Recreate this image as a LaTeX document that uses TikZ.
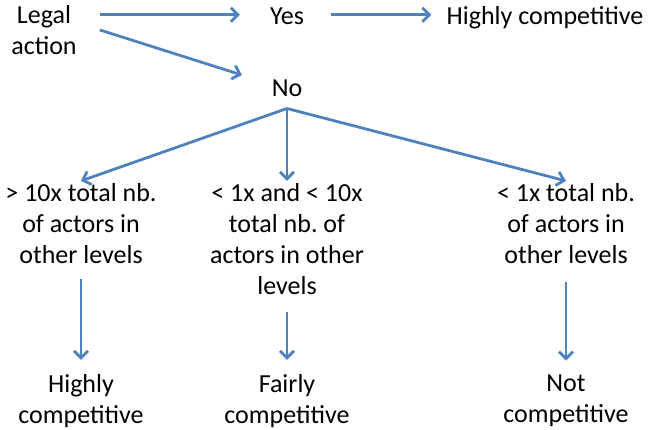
\documentclass[tikz,border=0pt]{standalone}
\usepackage{fontspec}
\setmainfont{Carlito}
\usepackage{xcolor}
\usepackage{tikz}
\usetikzlibrary{positioning}
\usetikzlibrary{arrows.meta}
\definecolor{arrowblue}{HTML}{4F81BD}
\frenchspacing

\tikzset{
  lbl/.style={align=center, inner sep=2pt, font=\fontsize{26}{31}\selectfont,
              execute at begin node=\strut, execute at end node=\strut},
  flow/.style={draw=arrowblue, line width=2.8pt, -{Straight Barb[length=7pt,width=14pt]}}
}

\begin{document}
\begin{tikzpicture}[on grid, x=1pt, y=1pt]
\useasboundingbox (0,0) rectangle (650,-430);

\node[lbl](LEGAL)  at (44,-34.3)                          {Legal\\action};
\node[lbl](YES)    [above right=15.5pt and 243pt of LEGAL] {Yes};
\node[lbl](HIGHC)  [right=258pt of YES]                    {Highly competitive};
\node[lbl](NO)     [below=72pt of YES]                     {No};
\node[lbl](GT10)   [below left=137pt and 206pt of NO]      {> 10x total nb.\\of actors in\\other levels};
\node[lbl](MID)    [below=152.5pt of NO]                   {< 1x and < 10x\\total nb. of\\actors in other\\levels};
\node[lbl](LT1)    [below right=137pt and 279pt of NO]     {< 1x total nb.\\of actors in\\other levels};
\node[lbl](HIGHLY) [below=175.5pt of GT10]                 {Highly\\competitive};
\node[lbl](FAIRLY) [below=160pt of MID]                    {Fairly\\competitive};
\node[lbl](NOTC)   [below=175.5pt of LT1]                  {Not\\competitive};

\draw[flow, transform canvas={yshift=4pt}, shorten <=21pt, shorten >=28pt] (LEGAL.east |- YES.west) -- (YES.west);
\draw[flow, transform canvas={yshift=4pt}, shorten <=25pt, shorten >=13pt] (YES)  -- (HIGHC);
\draw[flow, shorten <=22pt, shorten >=29pt] ([yshift=11pt]LEGAL.east) -- ([yshift=7pt]NO.west);
\draw[flow](NO.south)  -- (GT10.north);
\draw[flow](NO.south)  -- (MID.north);
\draw[flow](NO.south)  -- (LT1.north);
\draw[flow, shorten <=4pt, shorten >=12pt] (GT10) -- (HIGHLY);
\draw[flow, shorten <=6pt, shorten >=12pt] (MID)  -- (FAIRLY);
\draw[flow, shorten <=7pt, shorten >=12pt] (LT1)  -- (NOTC);
\end{tikzpicture}
\end{document}
